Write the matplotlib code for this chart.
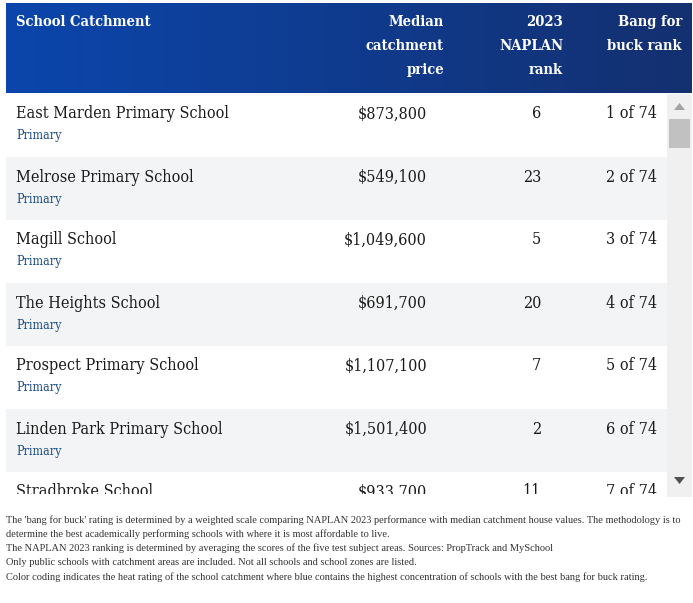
#!/usr/bin/env python3
import numpy as np
import matplotlib
matplotlib.use("Agg")
from matplotlib import pyplot as plt
from matplotlib.patches import Rectangle, Polygon

# table content
headers = [["School Catchment"], ["Median", "catchment", "price"], ["2023", "NAPLAN", "rank"], ["Bang for", "buck rank"]]
schools = ["East Marden Primary School", "Melrose Primary School", "Magill School",
           "The Heights School", "Prospect Primary School", "Linden Park Primary School",
           "Stradbroke School"]
school_types = ["Primary", "Primary", "Primary", "Primary", "Primary", "Primary", "Primary"]
prices = [873800, 549100, 1049600, 691700, 1107100, 1501400, 933700]
naplan_rank = [6, 23, 5, 20, 7, 2, 11]
bang_rank = [1, 2, 3, 4, 5, 6, 7]
n_total = 74
notes = [
    "The 'bang for buck' rating is determined by a weighted scale comparing NAPLAN 2023 performance with median catchment house values. The methodology is to",
    "determine the best academically performing schools with where it is most affordable to live.",
    "The NAPLAN 2023 ranking is determined by averaging the scores of the five test subject areas. Sources: PropTrack and MySchool",
    "Only public schools with catchment areas are included. Not all schools and school zones are listed.",
    "Color coding indicates the heat rating of the school catchment where blue contains the highest concentration of schools with the best bang for buck rating.",
]

W, H = 693, 603
fig = plt.figure(figsize=(W / 100, H / 100), dpi=100)
ax = fig.add_axes([0, 0, 1, 1])
ax.set_xlim(0, W)
ax.set_ylim(H, 0)
ax.axis("off")

# header band with a horizontal gradient
left = np.array([11, 70, 172]) / 255
right = np.array([20, 48, 112]) / 255
t = np.linspace(0, 1, 256)[None, :, None]
grad = left + (right - left) * t
ax.imshow(grad, extent=(6, 692, 93, 3), aspect="auto", interpolation="bicubic", zorder=1)

hdr_font = dict(family="DejaVu Serif", stretch="condensed", weight="bold", color="white", fontsize=10.6)
ax.text(16, 22, headers[0][0], ha="left", va="center", **hdr_font)
for col, xr in zip(headers[1:], [444, 563, 682]):
    for i, line in enumerate(col):
        ax.text(xr, 22 + 24 * i, line, ha="right", va="center", **hdr_font)

# body rows
top, row_h, body_bottom = 94, 63, 497
row_clip = Rectangle((0, top), W, body_bottom - top, transform=ax.transData)
text_clip = Rectangle((0, top), W, 494 - top, transform=ax.transData)
name_font = dict(family="DejaVu Serif", stretch="condensed", color="#1a1a1a", fontsize=11.6)
for i, name in enumerate(schools):
    y0 = top + i * row_h
    bg = "white" if i % 2 == 0 else "#f3f4f5"
    r = Rectangle((6, y0), 661, row_h, facecolor=bg, edgecolor="none", zorder=1)
    ax.add_patch(r)
    r.set_clip_path(row_clip)
    texts = [
        ax.text(16, y0 + 20, name, ha="left", va="center", **name_font),
        ax.text(16, y0 + 42, school_types[i], ha="left", va="center",
                family="DejaVu Serif", stretch="condensed", color="#1d4f86", fontsize=9),
        ax.text(427, y0 + 20, f"${prices[i]:,}", ha="right", va="center", **name_font),
        ax.text(541, y0 + 20, str(naplan_rank[i]), ha="right", va="center", **name_font),
        ax.text(657, y0 + 20, f"{bang_rank[i]} of {n_total}", ha="right", va="center", **name_font),
    ]
    for tx in texts:
        tx.set_clip_on(True)
        tx.set_clip_path(text_clip)

# scrollbar
ax.add_patch(Rectangle((667, top), 25, body_bottom - top, facecolor="#f0f0f0", edgecolor="none", zorder=2))
ax.add_patch(Rectangle((669, 119), 21, 29, facecolor="#c1c1c1", edgecolor="none", zorder=3))
ax.add_patch(Polygon([[674, 110], [685, 110], [679.5, 103]], closed=True, facecolor="#a3a3a3", edgecolor="none", zorder=3))
ax.add_patch(Polygon([[674, 477], [685, 477], [679.5, 484]], closed=True, facecolor="#505050", edgecolor="none", zorder=3))

# footnotes
for i, note in enumerate(notes):
    ax.text(6, 520 + i * 14.2, note, ha="left", va="center", family="Liberation Serif",
            color="#333333", fontsize=7.5)

fig.savefig("out.png", dpi=100)
